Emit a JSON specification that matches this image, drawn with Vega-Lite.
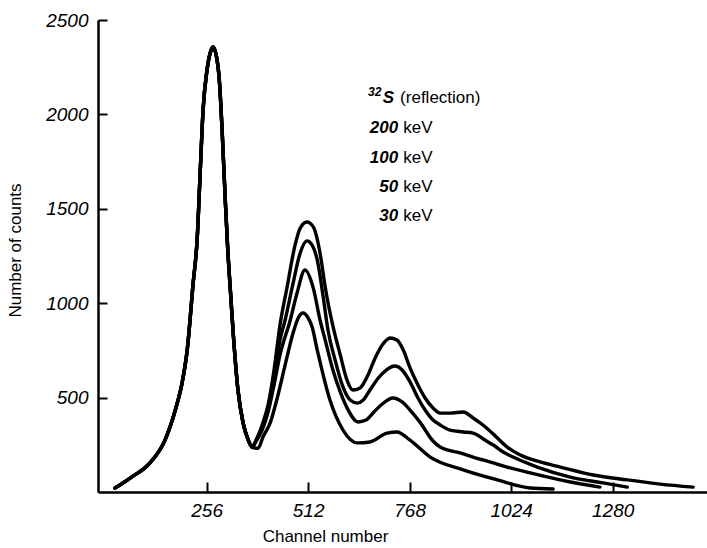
{
  "$schema": "https://vega.github.io/schema/vega-lite/v6.json",
  "width": 609,
  "height": 472,
  "autosize": {"type": "none"},
  "padding": {"left": 98, "top": 20, "right": 0, "bottom": 56},
  "background": "white",
  "config": {
    "view": {"stroke": null},
    "axis": {
      "grid": false,
      "domainColor": "black",
      "domainWidth": 2.5,
      "tickColor": "black",
      "tickWidth": 2,
      "labelColor": "black",
      "labelFont": "Liberation Sans",
      "labelFontStyle": "italic",
      "labelFontSize": 19,
      "titleColor": "black",
      "titleFont": "Liberation Sans",
      "titleFontWeight": "normal",
      "titleFontSize": 17
    }
  },
  "datasets": {
    "spectra": [
      {"energy": "200 keV", "channel": 25, "counts": 21}, {"energy": "200 keV", "channel": 63, "counts": 74}, {"energy": "200 keV", "channel": 113, "counts": 154}, {"energy": "200 keV", "channel": 151, "counts": 275}, {"energy": "200 keV", "channel": 177, "counts": 434}, {"energy": "200 keV", "channel": 194, "counts": 577}, {"energy": "200 keV", "channel": 207, "counts": 752}, {"energy": "200 keV", "channel": 222, "counts": 1107}, {"energy": "200 keV", "channel": 232, "counts": 1335}, {"energy": "200 keV", "channel": 240, "counts": 1706}, {"energy": "200 keV", "channel": 247, "counts": 2023}, {"energy": "200 keV", "channel": 257, "counts": 2235}, {"energy": "200 keV", "channel": 265, "counts": 2325}, {"energy": "200 keV", "channel": 272, "counts": 2357}, {"energy": "200 keV", "channel": 280, "counts": 2315}, {"energy": "200 keV", "channel": 288, "counts": 2182}, {"energy": "200 keV", "channel": 295, "counts": 1917}, {"energy": "200 keV", "channel": 303, "counts": 1547}, {"energy": "200 keV", "channel": 310, "counts": 1255}, {"energy": "200 keV", "channel": 315, "counts": 1096}, {"energy": "200 keV", "channel": 323, "counts": 842}, {"energy": "200 keV", "channel": 335, "counts": 540}, {"energy": "200 keV", "channel": 348, "counts": 365}, {"energy": "200 keV", "channel": 361, "counts": 275}, {"energy": "200 keV", "channel": 371, "counts": 238},
      {"energy": "200 keV", "channel": 381, "counts": 275}, {"energy": "200 keV", "channel": 396, "counts": 355}, {"energy": "200 keV", "channel": 411, "counts": 461}, {"energy": "200 keV", "channel": 426, "counts": 646}, {"energy": "200 keV", "channel": 441, "counts": 885}, {"energy": "200 keV", "channel": 459, "counts": 1086}, {"energy": "200 keV", "channel": 479, "counts": 1308}, {"energy": "200 keV", "channel": 492, "counts": 1398}, {"energy": "200 keV", "channel": 509, "counts": 1430}, {"energy": "200 keV", "channel": 525, "counts": 1404}, {"energy": "200 keV", "channel": 542, "counts": 1266}, {"energy": "200 keV", "channel": 555, "counts": 1086}, {"energy": "200 keV", "channel": 575, "counts": 874}, {"energy": "200 keV", "channel": 593, "counts": 726}, {"energy": "200 keV", "channel": 610, "counts": 593}, {"energy": "200 keV", "channel": 625, "counts": 540}, {"energy": "200 keV", "channel": 643, "counts": 551}, {"energy": "200 keV", "channel": 663, "counts": 620}, {"energy": "200 keV", "channel": 681, "counts": 710}, {"energy": "200 keV", "channel": 699, "counts": 779}, {"energy": "200 keV", "channel": 719, "counts": 816}, {"energy": "200 keV", "channel": 736, "counts": 805}, {"energy": "200 keV", "channel": 752, "counts": 752}, {"energy": "200 keV", "channel": 769, "counts": 657}, {"energy": "200 keV", "channel": 789, "counts": 567}, {"energy": "200 keV", "channel": 807, "counts": 498}, {"energy": "200 keV", "channel": 827, "counts": 445}, {"energy": "200 keV", "channel": 845, "counts": 418}, {"energy": "200 keV", "channel": 870, "counts": 418}, {"energy": "200 keV", "channel": 903, "counts": 424}, {"energy": "200 keV", "channel": 928, "counts": 392}, {"energy": "200 keV", "channel": 953, "counts": 355}, {"energy": "200 keV", "channel": 984, "counts": 297}, {"energy": "200 keV", "channel": 1014, "counts": 238}, {"energy": "200 keV", "channel": 1047, "counts": 196}, {"energy": "200 keV", "channel": 1097, "counts": 159}, {"energy": "200 keV", "channel": 1148, "counts": 132}, {"energy": "200 keV", "channel": 1231, "counts": 90}, {"energy": "200 keV", "channel": 1317, "counts": 64}, {"energy": "200 keV", "channel": 1400, "counts": 42}, {"energy": "200 keV", "channel": 1483, "counts": 26},

      {"energy": "100 keV", "channel": 25, "counts": 21}, {"energy": "100 keV", "channel": 63, "counts": 74}, {"energy": "100 keV", "channel": 113, "counts": 154}, {"energy": "100 keV", "channel": 151, "counts": 275}, {"energy": "100 keV", "channel": 177, "counts": 434}, {"energy": "100 keV", "channel": 194, "counts": 577}, {"energy": "100 keV", "channel": 207, "counts": 752}, {"energy": "100 keV", "channel": 222, "counts": 1107}, {"energy": "100 keV", "channel": 232, "counts": 1335}, {"energy": "100 keV", "channel": 240, "counts": 1706}, {"energy": "100 keV", "channel": 247, "counts": 2023}, {"energy": "100 keV", "channel": 257, "counts": 2235}, {"energy": "100 keV", "channel": 265, "counts": 2325}, {"energy": "100 keV", "channel": 272, "counts": 2357}, {"energy": "100 keV", "channel": 280, "counts": 2315}, {"energy": "100 keV", "channel": 288, "counts": 2182}, {"energy": "100 keV", "channel": 295, "counts": 1917}, {"energy": "100 keV", "channel": 303, "counts": 1547}, {"energy": "100 keV", "channel": 310, "counts": 1255}, {"energy": "100 keV", "channel": 315, "counts": 1096}, {"energy": "100 keV", "channel": 323, "counts": 842}, {"energy": "100 keV", "channel": 335, "counts": 540}, {"energy": "100 keV", "channel": 348, "counts": 365}, {"energy": "100 keV", "channel": 361, "counts": 275}, {"energy": "100 keV", "channel": 371, "counts": 238},
      {"energy": "100 keV", "channel": 381, "counts": 275}, {"energy": "100 keV", "channel": 396, "counts": 344}, {"energy": "100 keV", "channel": 411, "counts": 445}, {"energy": "100 keV", "channel": 426, "counts": 604}, {"energy": "100 keV", "channel": 441, "counts": 805}, {"energy": "100 keV", "channel": 454, "counts": 911}, {"energy": "100 keV", "channel": 472, "counts": 1086}, {"energy": "100 keV", "channel": 492, "counts": 1266}, {"energy": "100 keV", "channel": 509, "counts": 1330}, {"energy": "100 keV", "channel": 522, "counts": 1308}, {"energy": "100 keV", "channel": 535, "counts": 1229}, {"energy": "100 keV", "channel": 550, "counts": 1033}, {"energy": "100 keV", "channel": 562, "counts": 858}, {"energy": "100 keV", "channel": 580, "counts": 699}, {"energy": "100 keV", "channel": 598, "counts": 567}, {"energy": "100 keV", "channel": 618, "counts": 487}, {"energy": "100 keV", "channel": 636, "counts": 471}, {"energy": "100 keV", "channel": 651, "counts": 487}, {"energy": "100 keV", "channel": 668, "counts": 540}, {"energy": "100 keV", "channel": 689, "counts": 604}, {"energy": "100 keV", "channel": 709, "counts": 646}, {"energy": "100 keV", "channel": 731, "counts": 667}, {"energy": "100 keV", "channel": 749, "counts": 646}, {"energy": "100 keV", "channel": 769, "counts": 583}, {"energy": "100 keV", "channel": 789, "counts": 498}, {"energy": "100 keV", "channel": 807, "counts": 434}, {"energy": "100 keV", "channel": 827, "counts": 381}, {"energy": "100 keV", "channel": 845, "counts": 355}, {"energy": "100 keV", "channel": 870, "counts": 328}, {"energy": "100 keV", "channel": 903, "counts": 318}, {"energy": "100 keV", "channel": 928, "counts": 312}, {"energy": "100 keV", "channel": 958, "counts": 275}, {"energy": "100 keV", "channel": 979, "counts": 249}, {"energy": "100 keV", "channel": 1004, "counts": 212}, {"energy": "100 keV", "channel": 1029, "counts": 185}, {"energy": "100 keV", "channel": 1090, "counts": 132}, {"energy": "100 keV", "channel": 1173, "counts": 79}, {"energy": "100 keV", "channel": 1256, "counts": 48}, {"energy": "100 keV", "channel": 1317, "counts": 26},

      {"energy": "50 keV", "channel": 25, "counts": 21}, {"energy": "50 keV", "channel": 63, "counts": 74}, {"energy": "50 keV", "channel": 113, "counts": 154}, {"energy": "50 keV", "channel": 151, "counts": 275}, {"energy": "50 keV", "channel": 177, "counts": 434}, {"energy": "50 keV", "channel": 194, "counts": 577}, {"energy": "50 keV", "channel": 207, "counts": 752}, {"energy": "50 keV", "channel": 222, "counts": 1107}, {"energy": "50 keV", "channel": 232, "counts": 1335}, {"energy": "50 keV", "channel": 240, "counts": 1706}, {"energy": "50 keV", "channel": 247, "counts": 2023}, {"energy": "50 keV", "channel": 257, "counts": 2235}, {"energy": "50 keV", "channel": 265, "counts": 2325}, {"energy": "50 keV", "channel": 272, "counts": 2357}, {"energy": "50 keV", "channel": 280, "counts": 2315}, {"energy": "50 keV", "channel": 288, "counts": 2182}, {"energy": "50 keV", "channel": 295, "counts": 1917}, {"energy": "50 keV", "channel": 303, "counts": 1547}, {"energy": "50 keV", "channel": 310, "counts": 1255}, {"energy": "50 keV", "channel": 315, "counts": 1096}, {"energy": "50 keV", "channel": 323, "counts": 842}, {"energy": "50 keV", "channel": 335, "counts": 540}, {"energy": "50 keV", "channel": 348, "counts": 365}, {"energy": "50 keV", "channel": 361, "counts": 275}, {"energy": "50 keV", "channel": 371, "counts": 238},
      {"energy": "50 keV", "channel": 381, "counts": 270}, {"energy": "50 keV", "channel": 396, "counts": 328}, {"energy": "50 keV", "channel": 411, "counts": 424}, {"energy": "50 keV", "channel": 426, "counts": 567}, {"energy": "50 keV", "channel": 441, "counts": 726}, {"energy": "50 keV", "channel": 467, "counts": 911}, {"energy": "50 keV", "channel": 484, "counts": 1054}, {"energy": "50 keV", "channel": 504, "counts": 1176}, {"energy": "50 keV", "channel": 525, "counts": 1080}, {"energy": "50 keV", "channel": 542, "counts": 911}, {"energy": "50 keV", "channel": 555, "counts": 805}, {"energy": "50 keV", "channel": 573, "counts": 657}, {"energy": "50 keV", "channel": 593, "counts": 530}, {"energy": "50 keV", "channel": 613, "counts": 434}, {"energy": "50 keV", "channel": 638, "counts": 371}, {"energy": "50 keV", "channel": 658, "counts": 381}, {"energy": "50 keV", "channel": 678, "counts": 424}, {"energy": "50 keV", "channel": 699, "counts": 466}, {"energy": "50 keV", "channel": 726, "counts": 498}, {"energy": "50 keV", "channel": 749, "counts": 477}, {"energy": "50 keV", "channel": 769, "counts": 434}, {"energy": "50 keV", "channel": 794, "counts": 370}, {"energy": "50 keV", "channel": 827, "counts": 270}, {"energy": "50 keV", "channel": 845, "counts": 238}, {"energy": "50 keV", "channel": 895, "counts": 207}, {"energy": "50 keV", "channel": 928, "counts": 185}, {"energy": "50 keV", "channel": 979, "counts": 154}, {"energy": "50 keV", "channel": 1014, "counts": 132}, {"energy": "50 keV", "channel": 1072, "counts": 101}, {"energy": "50 keV", "channel": 1173, "counts": 53}, {"energy": "50 keV", "channel": 1248, "counts": 26},

      {"energy": "30 keV", "channel": 25, "counts": 21}, {"energy": "30 keV", "channel": 63, "counts": 74}, {"energy": "30 keV", "channel": 113, "counts": 154}, {"energy": "30 keV", "channel": 151, "counts": 275}, {"energy": "30 keV", "channel": 177, "counts": 434}, {"energy": "30 keV", "channel": 194, "counts": 577}, {"energy": "30 keV", "channel": 207, "counts": 752}, {"energy": "30 keV", "channel": 222, "counts": 1107}, {"energy": "30 keV", "channel": 232, "counts": 1335}, {"energy": "30 keV", "channel": 240, "counts": 1706}, {"energy": "30 keV", "channel": 247, "counts": 2023}, {"energy": "30 keV", "channel": 257, "counts": 2235}, {"energy": "30 keV", "channel": 265, "counts": 2325}, {"energy": "30 keV", "channel": 272, "counts": 2357}, {"energy": "30 keV", "channel": 280, "counts": 2315}, {"energy": "30 keV", "channel": 288, "counts": 2182}, {"energy": "30 keV", "channel": 295, "counts": 1917}, {"energy": "30 keV", "channel": 303, "counts": 1547}, {"energy": "30 keV", "channel": 310, "counts": 1255}, {"energy": "30 keV", "channel": 315, "counts": 1096}, {"energy": "30 keV", "channel": 323, "counts": 842}, {"energy": "30 keV", "channel": 335, "counts": 540}, {"energy": "30 keV", "channel": 348, "counts": 365}, {"energy": "30 keV", "channel": 361, "counts": 275}, {"energy": "30 keV", "channel": 371, "counts": 235},
      {"energy": "30 keV", "channel": 386, "counts": 232}, {"energy": "30 keV", "channel": 398, "counts": 291}, {"energy": "30 keV", "channel": 416, "counts": 365}, {"energy": "30 keV", "channel": 436, "counts": 514}, {"energy": "30 keV", "channel": 454, "counts": 673}, {"energy": "30 keV", "channel": 474, "counts": 842}, {"energy": "30 keV", "channel": 487, "counts": 922}, {"energy": "30 keV", "channel": 499, "counts": 948}, {"energy": "30 keV", "channel": 512, "counts": 922}, {"energy": "30 keV", "channel": 522, "counts": 874}, {"energy": "30 keV", "channel": 535, "counts": 752}, {"energy": "30 keV", "channel": 567, "counts": 487}, {"energy": "30 keV", "channel": 600, "counts": 328}, {"energy": "30 keV", "channel": 636, "counts": 260}, {"energy": "30 keV", "channel": 668, "counts": 265}, {"energy": "30 keV", "channel": 711, "counts": 312}, {"energy": "30 keV", "channel": 736, "counts": 318}, {"energy": "30 keV", "channel": 769, "counts": 275}, {"energy": "30 keV", "channel": 820, "counts": 185}, {"energy": "30 keV", "channel": 903, "counts": 117}, {"energy": "30 keV", "channel": 989, "counts": 64}, {"energy": "30 keV", "channel": 1072, "counts": 21}, {"energy": "30 keV", "channel": 1130, "counts": 16}
    ],
    "labels": [
      {"part": "sup", "text": "32", "channel": 663, "counts": 2095},
      {"part": "iso", "text": "S", "channel": 700, "counts": 2061},
      {"part": "note", "text": "(reflection)", "channel": 744, "counts": 2061},
      {"part": "num", "text": "200", "channel": 739, "counts": 1902},
      {"part": "num", "text": "100", "channel": 739, "counts": 1743},
      {"part": "num", "text": "50", "channel": 739, "counts": 1589},
      {"part": "num", "text": "30", "channel": 739, "counts": 1435},
      {"part": "unit", "text": "keV", "channel": 752, "counts": 1902},
      {"part": "unit", "text": "keV", "channel": 752, "counts": 1743},
      {"part": "unit", "text": "keV", "channel": 752, "counts": 1589},
      {"part": "unit", "text": "keV", "channel": 752, "counts": 1435}
    ]
  },
  "layer": [
    {
      "data": {"name": "spectra"},
      "mark": {"type": "line", "color": "black", "strokeWidth": 3.4, "interpolate": "monotone", "strokeJoin": "round", "strokeCap": "round"},
      "encoding": {
        "x": {
          "field": "channel", "type": "quantitative",
          "scale": {"domain": [-18, 1518], "nice": false, "zero": false},
          "axis": {"values": [256, 512, 768, 1024, 1280], "format": "d", "tickSize": -10, "labelPadding": 19, "title": "Channel number", "titleX": 227, "titleY": 36, "titleAlign": "center", "titleBaseline": "top"}
        },
        "y": {
          "field": "counts", "type": "quantitative",
          "scale": {"domain": [0, 2500], "nice": false},
          "axis": {"values": [500, 1000, 1500, 2000, 2500], "format": "d", "tickSize": -9, "labelPadding": 19, "title": "Number of counts", "titleX": -74, "titleY": 230, "titleAlign": "center", "titleBaseline": "bottom", "titleAngle": -90}
        },
        "detail": {"field": "energy"}
      }
    },
    {
      "data": {"name": "labels"},
      "transform": [{"filter": "datum.part == 'sup'"}],
      "mark": {"type": "text", "align": "left", "baseline": "alphabetic", "font": "Liberation Sans", "fontStyle": "italic", "fontWeight": "bold", "fontSize": 12, "color": "black"},
      "encoding": {"x": {"field": "channel", "type": "quantitative"}, "y": {"field": "counts", "type": "quantitative"}, "text": {"field": "text"}}
    },
    {
      "data": {"name": "labels"},
      "transform": [{"filter": "datum.part == 'iso'"}],
      "mark": {"type": "text", "align": "left", "baseline": "alphabetic", "font": "Liberation Sans", "fontStyle": "italic", "fontWeight": "bold", "fontSize": 17, "color": "black"},
      "encoding": {"x": {"field": "channel", "type": "quantitative"}, "y": {"field": "counts", "type": "quantitative"}, "text": {"field": "text"}}
    },
    {
      "data": {"name": "labels"},
      "transform": [{"filter": "datum.part == 'note'"}],
      "mark": {"type": "text", "align": "left", "baseline": "alphabetic", "font": "Liberation Sans", "fontSize": 17, "color": "black"},
      "encoding": {"x": {"field": "channel", "type": "quantitative"}, "y": {"field": "counts", "type": "quantitative"}, "text": {"field": "text"}}
    },
    {
      "data": {"name": "labels"},
      "transform": [{"filter": "datum.part == 'num'"}],
      "mark": {"type": "text", "align": "right", "baseline": "alphabetic", "font": "Liberation Sans", "fontStyle": "italic", "fontWeight": "bold", "fontSize": 17, "color": "black"},
      "encoding": {"x": {"field": "channel", "type": "quantitative"}, "y": {"field": "counts", "type": "quantitative"}, "text": {"field": "text"}}
    },
    {
      "data": {"name": "labels"},
      "transform": [{"filter": "datum.part == 'unit'"}],
      "mark": {"type": "text", "align": "left", "baseline": "alphabetic", "font": "Liberation Sans", "fontSize": 17, "color": "black"},
      "encoding": {"x": {"field": "channel", "type": "quantitative"}, "y": {"field": "counts", "type": "quantitative"}, "text": {"field": "text"}}
    }
  ]
}
